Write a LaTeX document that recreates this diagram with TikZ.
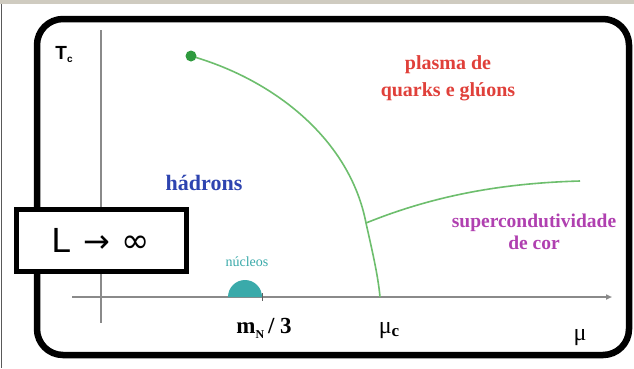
\documentclass[tikz,border=0pt]{standalone}
\usepackage{fontspec}
\setmainfont{Liberation Serif}
\newfontfamily\lsans{Liberation Sans}
\newfontfamily\dsans{DejaVu Sans}
\usetikzlibrary{arrows.meta}
\definecolor{curvegreen}{HTML}{6DBE6D}
\definecolor{dotgreen}{HTML}{2E9A3E}
\definecolor{plasmared}{HTML}{E0403A}
\definecolor{hadblue}{HTML}{2E44B0}
\definecolor{supviolet}{HTML}{B040B0}
\definecolor{nucteal}{HTML}{3AAAAA}
\definecolor{axisgray}{HTML}{8A8A8A}
\definecolor{bandgray}{HTML}{CFCBC0}
\tikzset{
  frame/.style={draw=black,line width=6.5pt,rounded corners=26pt},
  limitbox/.style={draw=black,line width=5pt,fill=white,minimum width=170pt,minimum height=62pt,inner sep=0pt},
  axisline/.style={draw=axisgray,line width=2pt},
  phase/.style={draw=curvegreen,line width=1.6pt},
  lbl/.style={inner sep=0pt,align=center},
}
\begin{document}
\begin{tikzpicture}[x=1pt,y=-1pt]
\useasboundingbox (0,0) rectangle (634,368);
\fill[white] (0,0) rectangle (634,368);
\fill[bandgray] (0,0) rectangle (634,4);
\draw[gray!70!black,line width=1.2pt] (1.5,4) -- (1.5,368);
\draw[frame] (37,19) rectangle (629,355);
% axes
\coordinate (ytop) at (101,30);
\coordinate (ybot) at (101,323);
\coordinate (xl) at (72,297);
\coordinate (xr) at (612,297);
\draw[axisline] (ytop) -- (ybot);
\draw[axisline,-{Triangle[length=6pt,width=5pt]}] (xl) -- (xr);
% nuclei bump
\fill[nucteal] (228,297) arc[start angle=180,end angle=360,radius=17] -- cycle;
\draw[axisgray!70!black,line width=1pt] (262,293) -- (262,301);
% phase boundary
\coordinate (cp) at (191,56);
\coordinate (J) at (366,223);
\coordinate (muc) at (380,297);
\coordinate (csend) at (580,181);
\draw[phase] (cp) .. controls (275,80) and (350,140) .. (J) .. controls (372,250) and (378,275) .. (muc);
\draw[phase] (J) .. controls (440,193) and (510,183) .. (csend);
\fill[dotgreen] (cp) circle (5.5pt);
% labels
\node[lbl,font=\lsans\bfseries\fontsize{19}{19}\selectfont] (tc) at (64,55) {T\raisebox{-3pt}{\fontsize{10}{10}\selectfont c}};
\node[lbl,text=plasmared,font=\bfseries\fontsize{20}{27}\selectfont] (plasma) at (448,78) {plasma de\\quarks e glúons};
\node[lbl,text=hadblue,font=\bfseries\fontsize{22}{22}\selectfont] (had) at (204,183) {hádrons};
\node[lbl,text=supviolet,font=\bfseries\fontsize{19.5}{22}\selectfont] (sup) at (534,232) {supercondutividade\\de cor};
\node[lbl,text=nucteal,font=\fontsize{14}{14}\selectfont] (nuc) at (247,262) {núcleos};
\node[lbl,font=\bfseries\fontsize{23}{23}\selectfont] (mn) at (264,328) {m\raisebox{-5pt}{\fontsize{12}{12}\selectfont N}\,/ 3};
\node[lbl,font=\fontsize{24}{24}\selectfont] (mucl) at (389,331) {μ\raisebox{-3pt}{\bfseries\fontsize{17}{17}\selectfont c}};
\node[lbl,font=\fontsize{24}{24}\selectfont] (mul) at (580,338) {μ};
\node[limitbox] (L) at (101,240) {\lsans\fontsize{35}{35}\selectfont L\hspace{12pt}\dsans\fontsize{32}{32}\selectfont →\hspace{12pt}\fontsize{34}{34}\selectfont ∞};
\end{tikzpicture}
\end{document}
